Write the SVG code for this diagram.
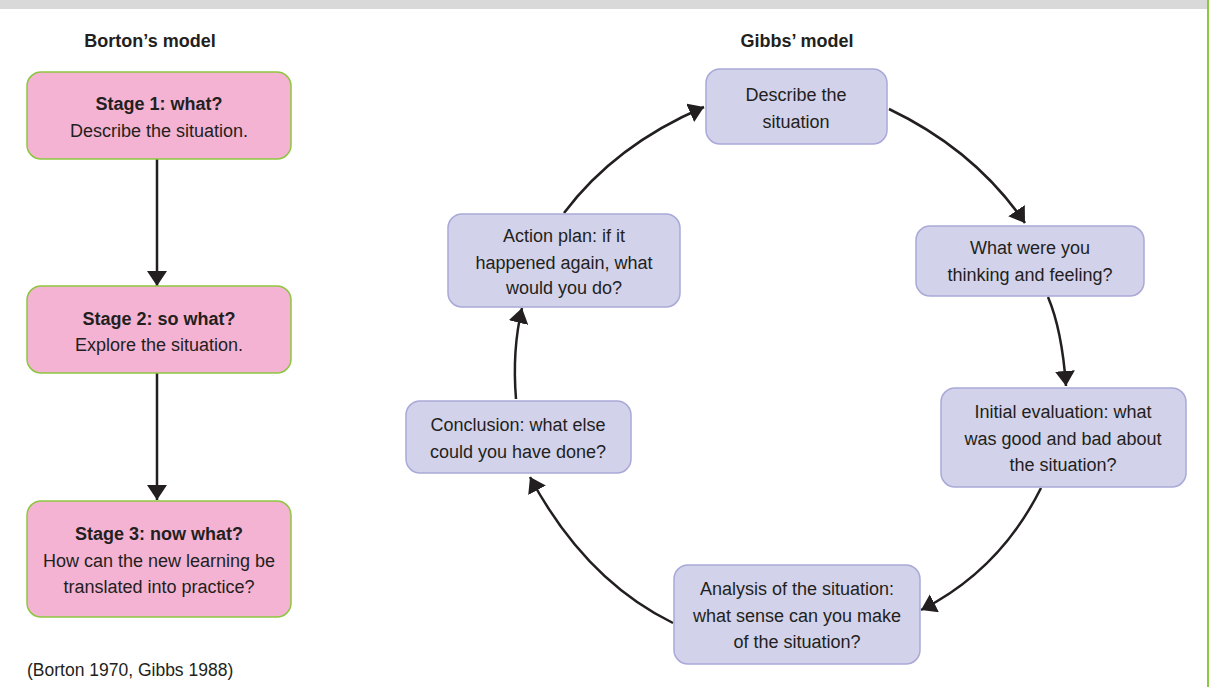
<svg xmlns="http://www.w3.org/2000/svg" width="1210" height="687" viewBox="0 0 1210 687">
<style>
text{font-family:"Liberation Sans",Arial,sans-serif;font-size:18px;fill:#231f20;text-anchor:middle}
.b{font-weight:bold}
.pink{fill:#f4b3d3;stroke:#8dc63f;stroke-width:1.5}
.lav{fill:#d2d2ea;stroke:#a9a9d8;stroke-width:1.5}
.conn path{fill:none;stroke:#231f20;stroke-width:2.5;marker-end:url(#ah)}
</style>
<defs>
<marker id="ah" markerUnits="userSpaceOnUse" markerWidth="16" markerHeight="20" refX="15" refY="10" orient="auto">
<path d="M0,0 L15,10 L0,20 z" fill="#231f20"/>
</marker>
</defs>
<rect x="0" y="0" width="1210" height="687" fill="#ffffff"/>
<rect x="0" y="0" width="1207" height="9" fill="#d9d9d9"/>
<rect x="1207" y="0" width="2" height="687" fill="#8dc63f"/>
<text class="b" x="150" y="47">Borton’s model</text>
<text class="b" x="797" y="47">Gibbs’ model</text>
<g class="conn">
<path d="M157,159 L157,286"/>
<path d="M157,373 L157,500"/>
<path d="M564,213 Q615,145 704,107"/>
<path d="M889,109 Q975,150 1025,223"/>
<path d="M1048,297 Q1062,330 1066,386"/>
<path d="M1041,488 Q1000,570 921,610"/>
<path d="M673,623 Q585,580 530,477"/>
<path d="M516,399 Q512,350 522,308"/>
</g>
<g id="stage1"><rect class="pink" x="27" y="72" width="264" height="87" rx="14"/><text class="b" x="159" y="110">Stage 1: what?</text><text x="159" y="137">Describe the situation.</text></g>
<g id="stage2"><rect class="pink" x="27" y="286" width="264" height="87" rx="14"/><text class="b" x="159" y="325">Stage 2: so what?</text><text x="159" y="351">Explore the situation.</text></g>
<g id="stage3"><rect class="pink" x="27" y="501" width="264" height="116" rx="14"/><text class="b" x="159" y="540">Stage 3: now what?</text><text x="159" y="567">How can the new learning be</text><text x="159" y="593">translated into practice?</text></g>
<g id="describe"><rect class="lav" x="706" y="69" width="181" height="75" rx="14"/><text x="796" y="101">Describe the</text><text x="796" y="128">situation</text></g>
<g id="feelings"><rect class="lav" x="916" y="226" width="228" height="70" rx="14"/><text x="1030" y="254">What were you</text><text x="1030" y="281">thinking and feeling?</text></g>
<g id="evaluation"><rect class="lav" x="941" y="388" width="245" height="99" rx="14"/><text x="1063" y="418">Initial evaluation: what</text><text x="1063" y="445">was good and bad about</text><text x="1063" y="471">the situation?</text></g>
<g id="analysis"><rect class="lav" x="674" y="565" width="246" height="99" rx="14"/><text x="797" y="595">Analysis of the situation:</text><text x="797" y="622">what sense can you make</text><text x="797" y="648">of the situation?</text></g>
<g id="conclusion"><rect class="lav" x="406" y="401" width="225" height="72" rx="14"/><text x="518" y="431">Conclusion: what else</text><text x="518" y="458">could you have done?</text></g>
<g id="action"><rect class="lav" x="448" y="214" width="232" height="93" rx="14"/><text x="564" y="242">Action plan: if it</text><text x="564" y="269">happened again, what</text><text x="564" y="294">would you do?</text></g>
<text x="27" y="676" style="text-anchor:start;font-size:17.5px">(Borton 1970, Gibbs 1988)</text>
</svg>
